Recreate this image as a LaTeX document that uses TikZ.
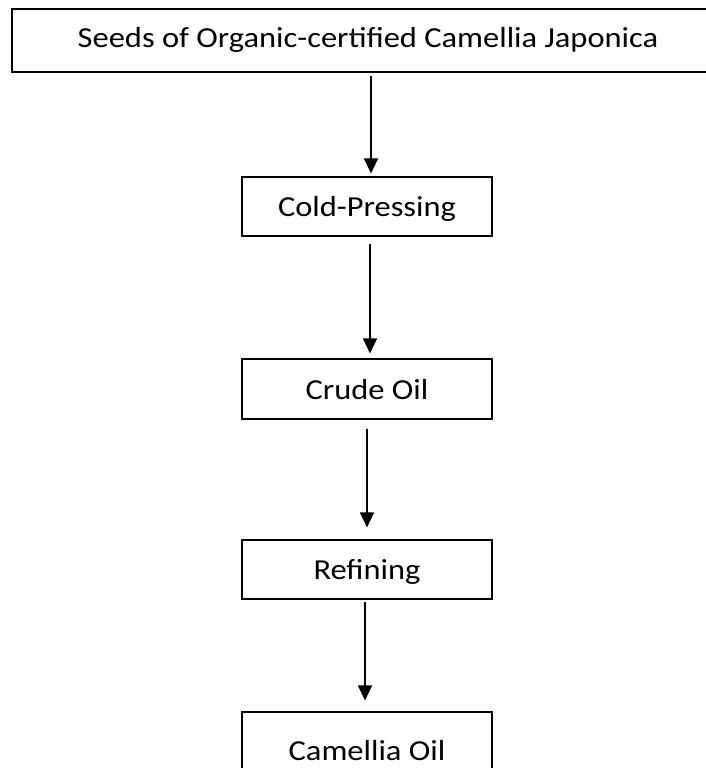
\documentclass[tikz,border=0pt]{standalone}
\usepackage{fontspec}
\setmainfont{Carlito}[FakeStretch=1.12]
\usetikzlibrary{arrows.meta}

\begin{document}
\begin{tikzpicture}[x=1pt, y=-1pt,
    box/.style={draw, line width=1.1pt, minimum width=250pt, minimum height=59pt, inner sep=0pt, text depth=0pt, font=\fontsize{29}{35}\selectfont},
    flow/.style={line width=1.1pt, -{Triangle[width=14pt, length=15pt]}}]
    \useasboundingbox (0, 0) rectangle (706, 768);
    \node[box, minimum width=712pt, minimum height=63pt, text depth=7pt] (seeds) at (368, 40.5) {Seeds of Organic-certified Camellia Japonica};
    \node[box] (press) at (367, 206.5) {Cold-Pressing};
    \node[box, minimum height=60pt] (crude) at (367, 389) {Crude Oil};
    \node[box] (refine) at (367, 569.5) {Refining};
    \node[box, minimum height=76pt] (oil) at (367, 750) {Camellia Oil};
	\draw[flow, shorten <=3pt, shorten >=3pt] ([xshift=3pt]seeds.south) -- ([xshift=4pt]press.north);
	\draw[flow, shorten <=7pt, shorten >=5pt] ([xshift=3pt]press.south) -- ([xshift=3pt]crude.north);
	\draw[flow, shorten <=9pt, shorten >=12pt] (crude.south) -- (refine.north);
	\draw[flow, shorten <=2pt, shorten >=11pt] ([xshift=-2pt]refine.south) -- ([xshift=-2pt]oil.north);
\end{tikzpicture}
\end{document}
